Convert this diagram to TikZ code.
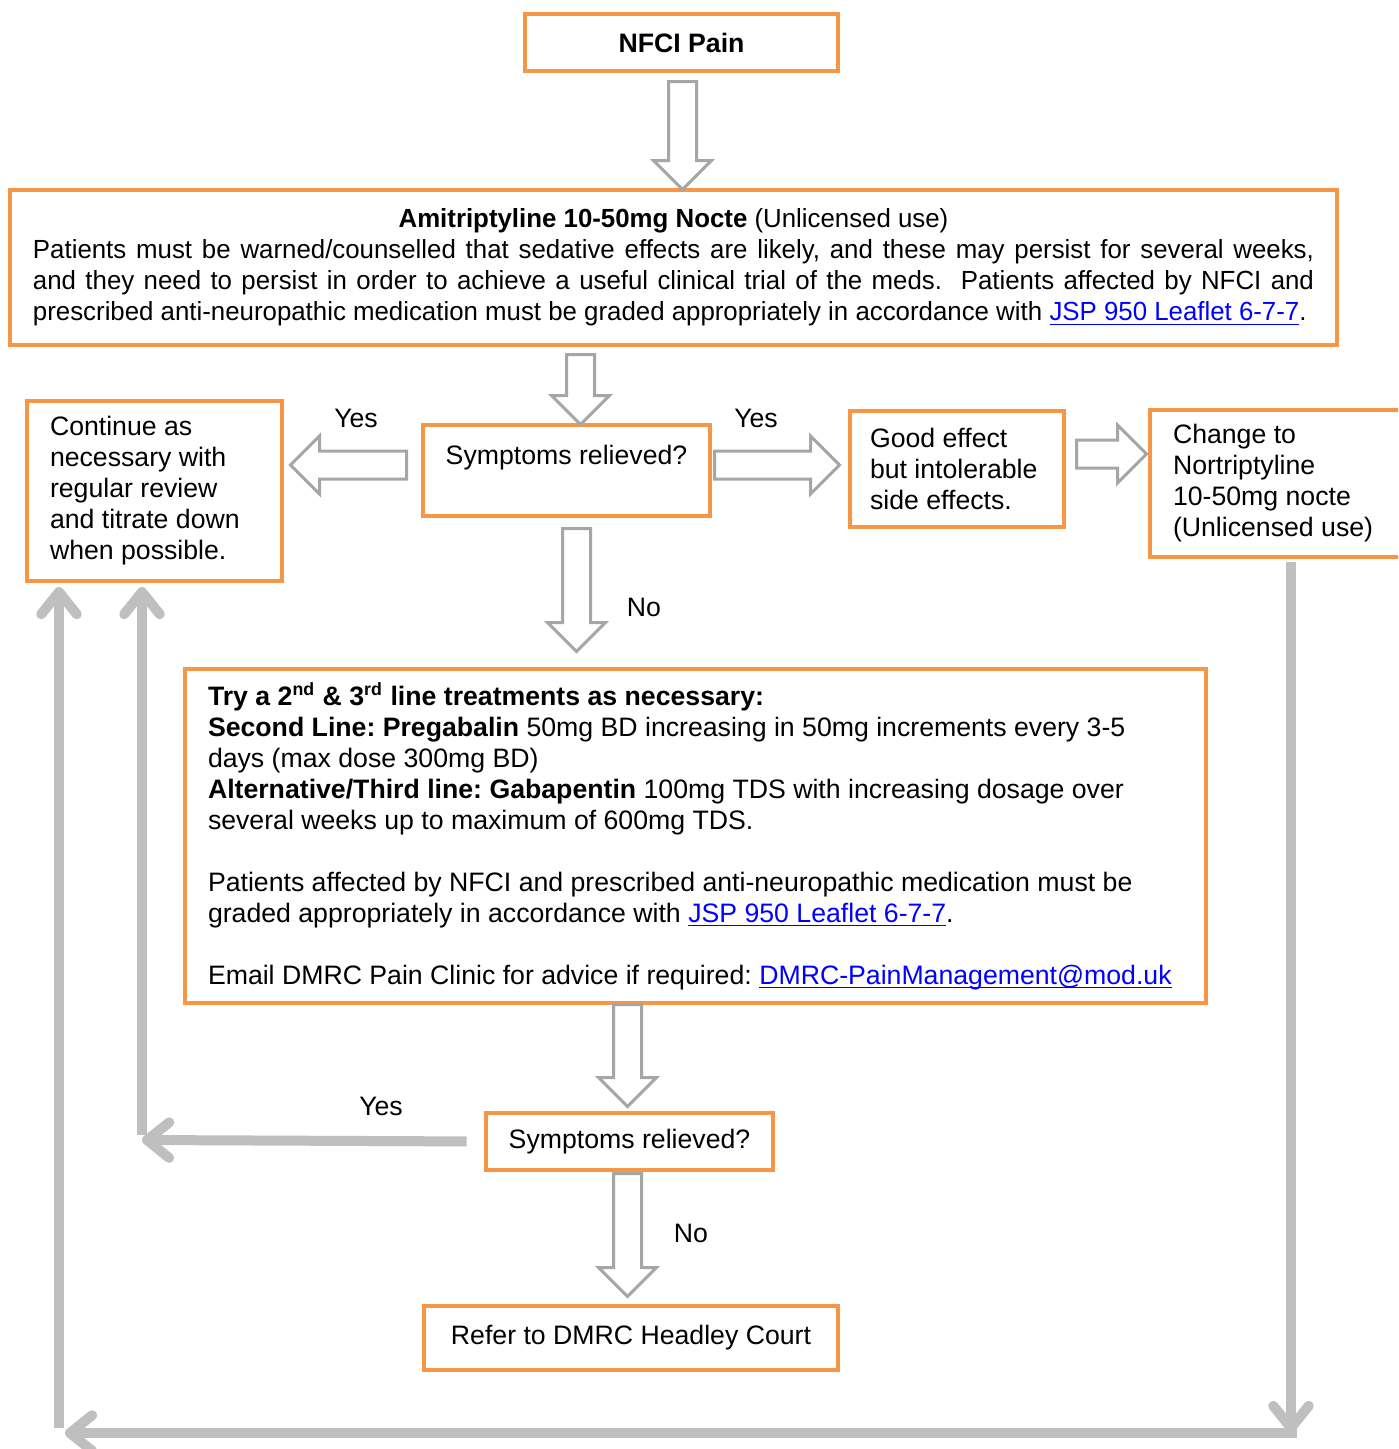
\documentclass[tikz,border=0pt]{standalone}
\usepackage{fontspec}
\setmainfont{Liberation Sans}
\newfontfamily\narrowfont[FakeStretch=0.985]{Liberation Sans}
\usetikzlibrary{shapes.arrows,arrows.meta}
\definecolor{boxorange}{HTML}{F79646}
\definecolor{linegray}{HTML}{BFBFBF}
\definecolor{arrowgray}{HTML}{A6A6A6}
\definecolor{linkblue}{HTML}{0000FF}
\newlength\px
\setlength\px{0.45pt}
\newcommand\weblink[1]{\textcolor{linkblue}{\setbox0\hbox{#1}\rlap{\rule[-1.8pt]{\wd0}{0.55pt}}\box0}}
\begin{document}
\frenchspacing
\fontsize{12pt}{13.95pt}\selectfont
\begin{tikzpicture}[x=1\px,y=-1\px,
  box/.style={draw=boxorange,line width=4\px,fill=white,inner xsep=23\px,inner ysep=0pt},
  barrow/.style={single arrow,draw=arrowgray,line width=3\px,fill=white,inner xsep=0pt,inner ysep=12.5\px,single arrow head extend=15\px,anchor=tail},
  conn/.style={draw=linegray,line width=10\px,-{Straight Barb[length=10pt,width=16pt,round]}}]
\useasboundingbox (0,0) rectangle (1398,1449);
\clip (0,0) rectangle (1398,1449);

\node[box,minimum width=313\px,minimum height=57\px] (nfci) at (681.5,42.5) {\textbf{NFCI Pain}};
\node[box,minimum width=1327\px,minimum height=155\px,text width=1281\px,align=justify,font=\narrowfont\fontsize{11.8pt}{13.95pt}\selectfont] (ami) at (673.5,267.5)
  {\hfill\textbf{Amitriptyline 10-50mg Nocte} (Unlicensed use)\hfill\null\linebreak
   Patients must be warned/counselled that sedative effects are likely, and these may persist for several weeks,\linebreak
   and they need to persist in order to achieve a useful clinical trial of the meds.\ \ Patients affected by NFCI and\linebreak
   prescribed anti-neuropathic medication must be graded appropriately in accordance with \weblink{JSP 950 Leaflet 6-7-7}.};
\node[box,minimum width=255\px,minimum height=180\px,text width=209\px,align=flush left] (cont) at (154.5,491)
  {Continue as\\necessary with\\regular review\\and titrate down\\when possible.};
\node[box,minimum width=285\px,minimum height=91\px,align=center] (sym1) at (566.5,470.5) {Symptoms relieved?\\\mbox{}};
\node[box,minimum width=214\px,minimum height=116\px,inner xsep=20\px,text width=174\px,align=flush left] (good) at (957,469)
  {Good effect\\but intolerable\\side effects.};
\node[box,minimum width=282\px,minimum height=147\px,text width=236\px,align=flush left] (nort) at (1291,483.5)
  {Change to\\Nortriptyline\\10-50mg nocte\\(Unlicensed use)};
\node[box,minimum width=1021\px,minimum height=334\px,text width=975\px,align=flush left] (try) at (695.5,836)
  {\textbf{Try a 2\textsuperscript{nd} \& 3\textsuperscript{rd} line treatments as necessary:}\\
   \textbf{Second Line: Pregabalin} 50mg BD increasing in 50mg increments every 3-5\\
   days (max dose 300mg BD)\\
   \textbf{Alternative/Third line: Gabapentin} 100mg TDS with increasing dosage over\\
   several weeks up to maximum of 600mg TDS.\\[13.95pt]
   Patients affected by NFCI and prescribed anti-neuropathic medication must be\\
   graded appropriately in accordance with \weblink{JSP 950 Leaflet 6-7-7}.\\[13.95pt]
   Email DMRC Pain Clinic for advice if required: \weblink{DMRC-PainManagement@mod.uk}};
\node[box,minimum width=285\px,minimum height=57\px] (sym2) at (629.5,1141.5) {Symptoms relieved?};
\node[box,minimum width=414\px,minimum height=64\px] (refer) at (631,1338) {Refer to DMRC Headley Court};

\node[barrow,rotate=-90,minimum height=108\px] (ba1) at (682.5,80) {};
\node[barrow,rotate=-90,minimum height=70\px] (ba2) at (580.5,353) {};
\node[barrow,rotate=180,minimum height=116\px] (ba3) at (408,465) {};
\node[barrow,minimum height=125\px] (ba4) at (713,465) {};
\node[barrow,rotate=-90,minimum height=123\px] (ba5) at (576.5,527) {};
\node[barrow,minimum height=70\px] (ba6) at (1075,454) {};
\node[barrow,rotate=-90,minimum height=102\px] (ba7) at (627.5,1003) {};
\node[barrow,rotate=-90,minimum height=123\px] (ba8) at (627.5,1172) {};

\node (yes1) at (356,418) {Yes};
\node (yes2) at (756,418) {Yes};
\node (no1) at (644,607) {No};
\node (yes3) at (381,1106) {Yes};
\node (no2) at (691,1233) {No};

\coordinate (ycorner) at (142,1140);
\coordinate (lcorner) at (59,1433);
\coordinate (rcorner) at (1291,1433);
\draw[conn,shorten <=17\px] (sym2.west) -- (ycorner);
\draw[conn,shorten >=4\px] ([yshift=5\px]ycorner) -- (ycorner |- cont.south);
\draw[conn,shorten <=3\px] (nort.south) -- (rcorner);
\draw[conn,shorten >=6\px] ([xshift=6\px]rcorner) -- (lcorner);
\draw[conn,shorten >=4\px] ([yshift=5\px]lcorner) -- (lcorner |- cont.south);
\end{tikzpicture}
\end{document}
